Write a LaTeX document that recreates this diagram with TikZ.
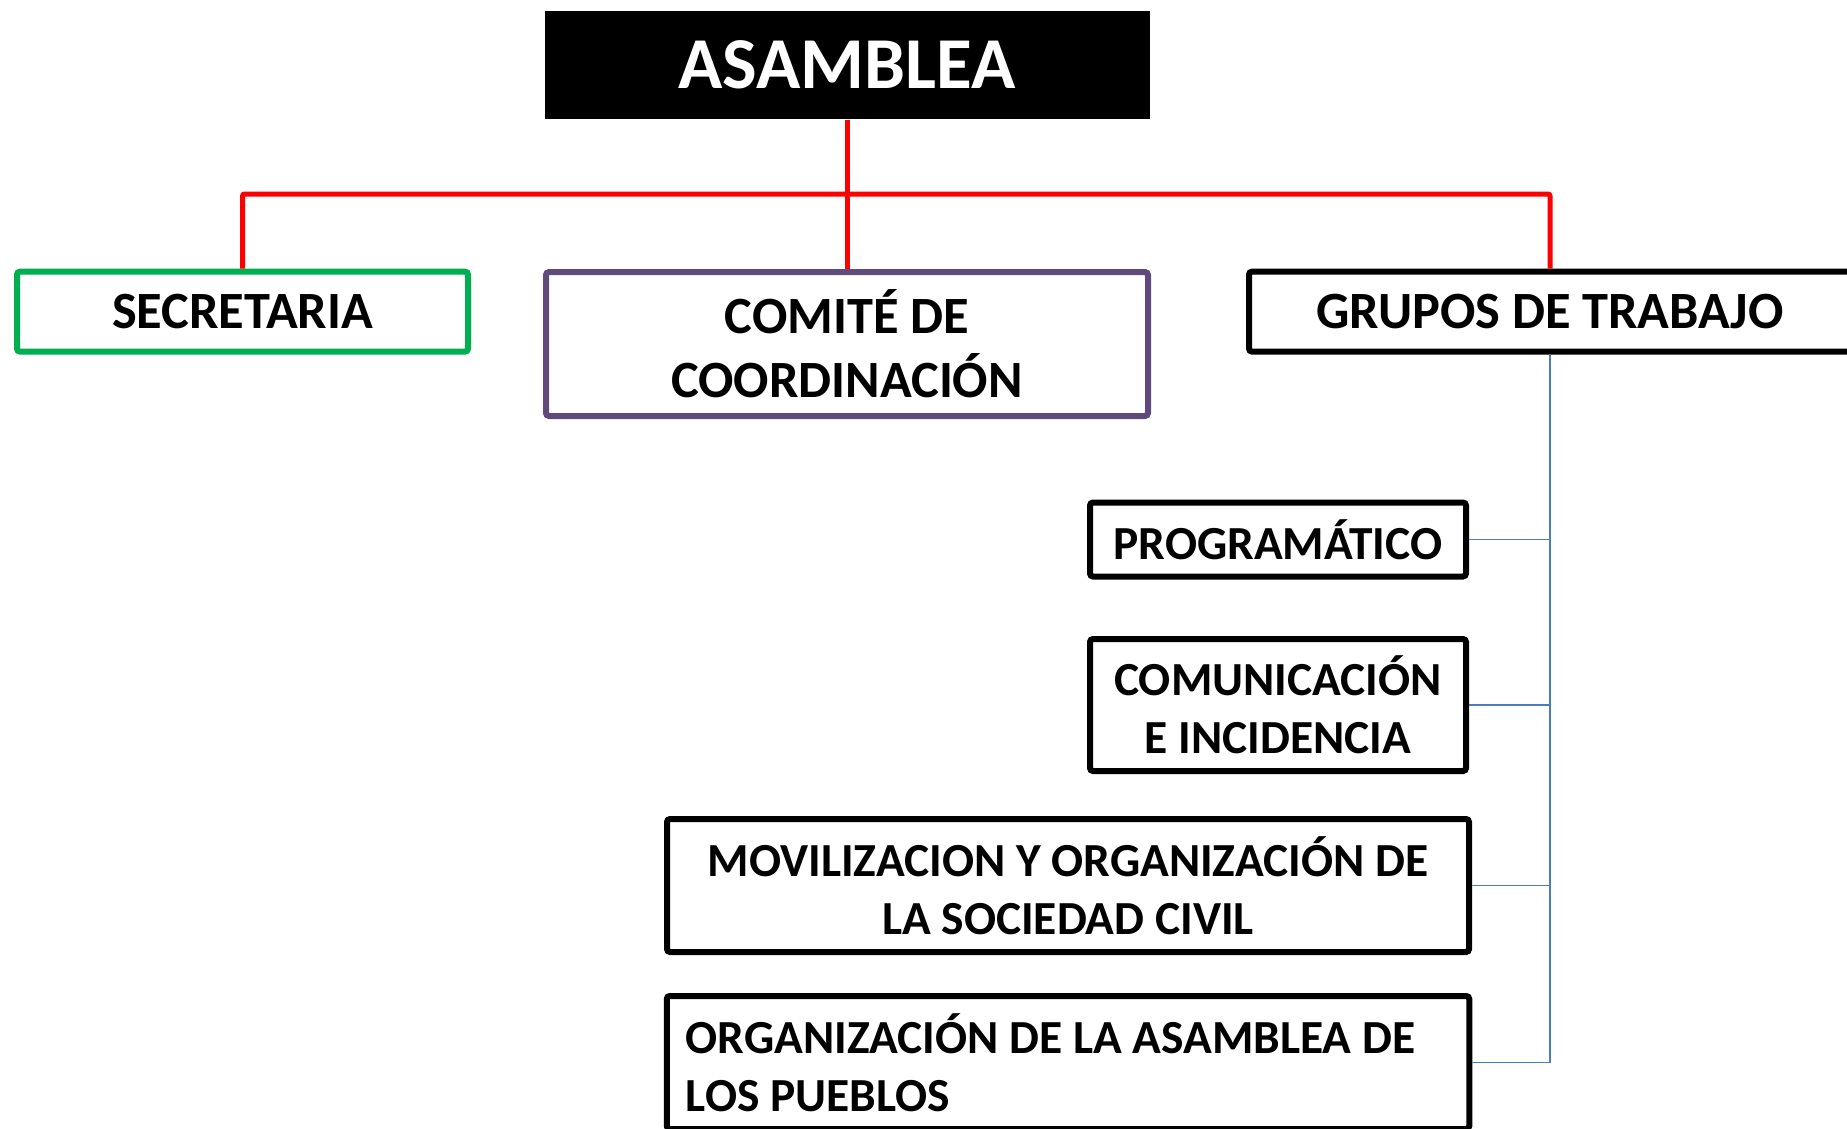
\documentclass[tikz,border=0pt]{standalone}
\usepackage{fontspec}
\setmainfont{Carlito}
\usepackage{tikz}
\usetikzlibrary{%
        calc,
        positioning
    }
\definecolor{ogreen}{RGB}{0, 176, 80}
\definecolor{opurple}{RGB}{96, 74, 123}
\definecolor{ored}{RGB}{255, 0, 0}
\definecolor{oblue}{RGB}{74, 126, 187}
\newcommand{\asmfont}{\fontsize{20.8pt}{25pt}\selectfont\bfseries}
\newcommand{\boxfont}{\fontsize{14.9pt}{18.2pt}\selectfont\bfseries}
\newcommand{\subboxfont}{\fontsize{13.5pt}{16.5pt}\selectfont\bfseries}
\tikzset{%
    orgbox/.style={%
        draw, line width=0.06cm, rounded corners=0.03cm,
        inner sep=0.1cm, align=center, font=\boxfont
    },
    subbox/.style={orgbox, draw=black, font=\subboxfont},
    redline/.style={draw=ored, line width=0.05cm, rounded corners=0.02cm},
    blueline/.style={draw=oblue, line width=0.016cm}
}

\begin{document}
\begin{tikzpicture}

    \useasboundingbox[fill=white] (0, 0) rectangle (18.47, -11.28);

    % Top
    \node[fill=black, text=white, font=\asmfont, minimum width=6.05cm,
        minimum height=1.08cm] (asamblea) at (8.47, -0.65) {ASAMBLEA};

    % First level
    \node[orgbox, draw=ogreen, minimum width=4.51cm, minimum height=0.80cm]
        (secretaria) at (2.425, -3.116) {SECRETARIA};
    \node[orgbox, draw=opurple, minimum width=6.02cm, minimum height=1.44cm]
        (comite) at (8.47, -3.44) {COMITÉ DE\\COORDINACIÓN};
    \node[orgbox, draw=black, minimum width=6.02cm, minimum height=0.80cm]
        (grupos) at (15.5, -3.116) {GRUPOS DE TRABAJO};

    % Working groups
    \node[subbox, minimum width=3.76cm, minimum height=0.74cm]
        (programatico) at (12.78, -5.395) {PROGRAMÁTICO};
    \node[subbox, minimum width=3.76cm, minimum height=1.32cm]
        (comunicacion) at (12.78, -7.05) {COMUNICACIÓN\\E INCIDENCIA};
    \node[subbox, minimum width=8.02cm, minimum height=1.33cm]
        (movilizacion) at (10.68, -8.855)
        {MOVILIZACION Y ORGANIZACIÓN DE\\LA SOCIEDAD CIVIL};
    \node[subbox, align=flush left, text width=7.645cm, inner xsep=0.19cm,
        minimum height=1.33cm] (organizacion) at (10.68, -10.625)
        {ORGANIZACIÓN DE LA ASAMBLEA DE\\LOS PUEBLOS};

    % Connecting assembly to first level
    \coordinate (bus) at (0, -1.94);
    \draw[redline] (asamblea.south) -- (asamblea.south |- bus);
    \draw[redline] (secretaria.north) -- (secretaria.north |- bus)
        -- (grupos.north |- bus) -- (grupos.north);
    \draw[redline] (asamblea.south |- bus) -- (comite.north);

    % Connecting working groups
    \draw[blueline] (grupos.south) -- (grupos.south |- organizacion.east);
    \foreach \grp in {programatico, comunicacion, movilizacion, organizacion}{%
        \draw[blueline] (\grp.east) -- (grupos.south |- \grp.east);
    };

\end{tikzpicture}
\end{document}
